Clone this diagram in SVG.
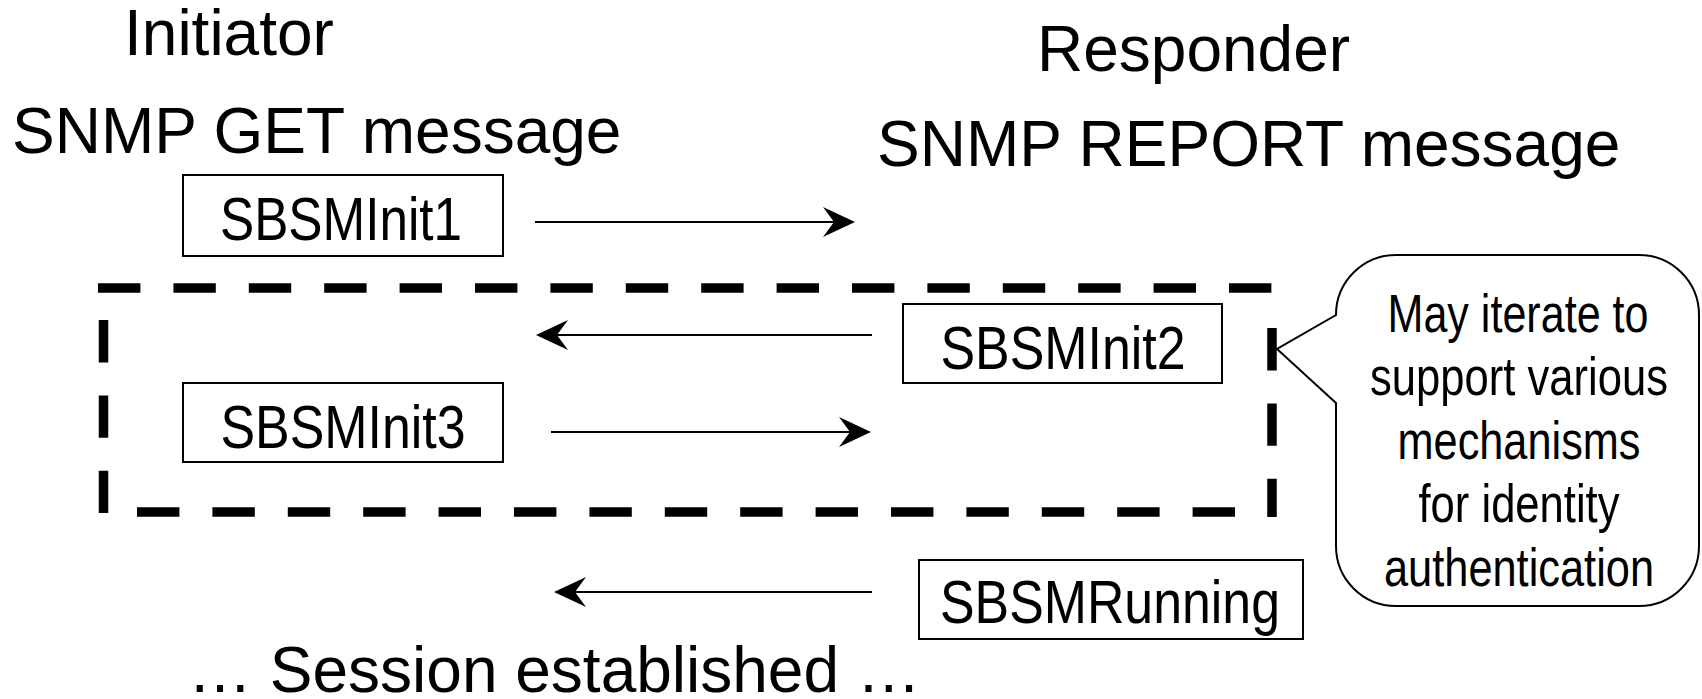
<svg xmlns="http://www.w3.org/2000/svg" width="1702" height="699" viewBox="0 0 1702 699">
<style>
.t{font-family:"Liberation Sans",Arial,sans-serif;font-size:64px;fill:#000}
.n{font-family:"Liberation Sans Narrow","Arial Narrow","Liberation Sans",sans-serif;font-size:62px;fill:#000;text-anchor:middle}
.c{font-family:"Liberation Sans Narrow","Arial Narrow","Liberation Sans",sans-serif;font-size:53px;fill:#000;text-anchor:middle}
.box{fill:#fff;stroke:#000;stroke-width:2}
.msg{stroke:#000;stroke-width:2;fill:none}
.dash{stroke:#000;stroke-width:9.5;fill:none;stroke-dasharray:42.4 33}
</style>
<defs>
<marker id="ah" markerUnits="userSpaceOnUse" viewBox="-13 -16 35 32" markerWidth="35" markerHeight="32" refX="0" refY="0" orient="auto">
<path d="M20,0 L-12,-15 L-1,0 L-12,15 Z" fill="#000"/>
</marker>
</defs>
<g id="titles">
<text class="t" x="124" y="55">Initiator</text>
<text class="t" x="12" y="153">SNMP GET message</text>
<text class="t" x="1037" y="71">Responder</text>
<text class="t" x="877" y="166">SNMP REPORT message</text>
<text class="t" x="188" y="692">… Session established …</text>
</g>
<g id="iteration-frame">
<path class="dash" d="M98,288 H1277"/>
<path class="dash" d="M1272,328 V517"/>
<path class="dash" d="M137,512 H1272"/>
<path class="dash" d="M103.5,320 V513"/>
</g>
<g id="connectors">
<line class="msg" x1="535" y1="222" x2="835" y2="222" marker-end="url(#ah)"/>
<line class="msg" x1="872" y1="335" x2="556" y2="335" marker-end="url(#ah)"/>
<line class="msg" x1="551" y1="432" x2="851" y2="432" marker-end="url(#ah)"/>
<line class="msg" x1="872" y1="592" x2="574" y2="592" marker-end="url(#ah)"/>
</g>
<g id="SBSMInit1">
<rect class="box" x="183" y="175" width="320" height="81"/>
<text class="n" x="341" y="240" textLength="242" lengthAdjust="spacingAndGlyphs">SBSMInit1</text>
</g>
<g id="SBSMInit2">
<rect class="box" x="903" y="304" width="319" height="79"/>
<text class="n" x="1063" y="369" textLength="245" lengthAdjust="spacingAndGlyphs">SBSMInit2</text>
</g>
<g id="SBSMInit3">
<rect class="box" x="183" y="383" width="320" height="79"/>
<text class="n" x="343" y="448" textLength="245" lengthAdjust="spacingAndGlyphs">SBSMInit3</text>
</g>
<g id="SBSMRunning">
<rect class="box" x="919" y="560" width="384" height="79"/>
<text class="n" x="1110" y="623" textLength="340" lengthAdjust="spacingAndGlyphs">SBSMRunning</text>
</g>
<g id="callout">
<path class="box" d="M1336,403 L1277,349 L1336,315 A60,60 0 0 1 1396,255 H1639 A60,60 0 0 1 1699,315 V546 A60,60 0 0 1 1639,606 H1396 A60,60 0 0 1 1336,546 Z"/>
<text class="c" x="1518" y="332" textLength="261" lengthAdjust="spacingAndGlyphs">May iterate to</text>
<text class="c" x="1519" y="395" textLength="298" lengthAdjust="spacingAndGlyphs">support various</text>
<text class="c" x="1519" y="459" textLength="243" lengthAdjust="spacingAndGlyphs">mechanisms</text>
<text class="c" x="1519" y="522" textLength="201" lengthAdjust="spacingAndGlyphs">for identity</text>
<text class="c" x="1519" y="586" textLength="270" lengthAdjust="spacingAndGlyphs">authentication</text>
</g>
</svg>
